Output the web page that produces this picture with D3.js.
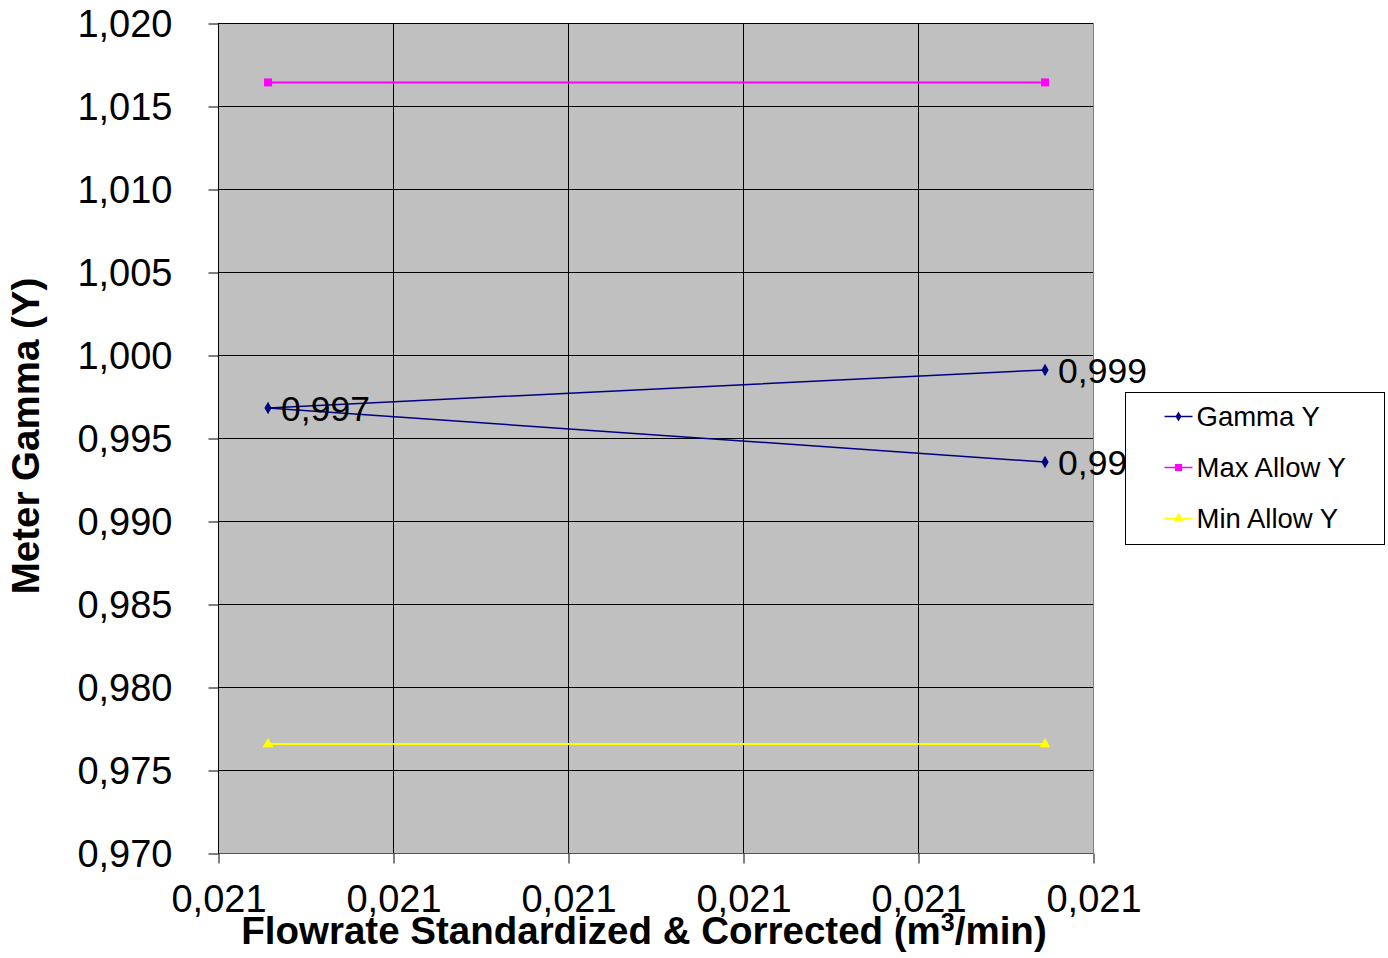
<!DOCTYPE html>
<html>
<head>
<meta charset="utf-8">
<script src="https://cdn.jsdelivr.net/npm/d3@7"></script>
<style>
  body { margin: 0; background: #fff; }
  text { font-family: "Liberation Sans", Arial, sans-serif; }
</style>
</head>
<body>
<div id="chart"></div>
<script>
// data
var gammaX = [0.0212226, 0.0207786, 0.0212226],
  gammaY = [0.99910, 0.99681, 0.99355],
  gammaLabels = ["0,999", "0,997", "0,994"],
  limitX = [0.0207786, 0.0212226],
  maxY = [1.01642, 1.01642],
  minY = [0.97656, 0.97656],
  yTicks = [0.970, 0.975, 0.980, 0.985, 0.990, 0.995, 1.000, 1.005, 1.010, 1.015, 1.020],
  xTicks = [0.02075, 0.02085, 0.02095, 0.02105, 0.02115, 0.02125],
  seriesNames = ["Gamma Y", "Max Allow Y", "Min Allow Y"],
  seriesColors = ["#000080", "#ff00ff", "#ffff00"];

var width = 1388, height = 958,
  plot = { left: 218, right: 1093, top: 23, bottom: 853 };

var svg = d3.select("#chart").append("svg")
  .attr("width", width)
  .attr("height", height);

var x = d3.scaleLinear().domain([0.02075, 0.02125]).range([plot.left, plot.right]);
var y = d3.scaleLinear().domain([0.970, 1.020]).range([plot.bottom, plot.top]);

var fmt = function (d) { return d3.format(".3f")(d).replace(".", ","); };

// plot background
svg.append("rect")
  .attr("x", plot.left).attr("y", plot.top)
  .attr("width", plot.right - plot.left).attr("height", plot.bottom - plot.top)
  .style("fill", "#c0c0c0");

// gridlines
svg.selectAll(".hgrid").data(yTicks).enter().append("line")
  .attr("class", "hgrid")
  .attr("x1", plot.left).attr("x2", plot.right)
  .attr("y1", function (d) { return Math.round(y(d)) + 0.5; })
  .attr("y2", function (d) { return Math.round(y(d)) + 0.5; })
  .style("stroke", "#000").style("stroke-width", 1);

svg.selectAll(".vgrid").data(xTicks.slice(1, -1)).enter().append("line")
  .attr("class", "vgrid")
  .attr("y1", plot.top).attr("y2", plot.bottom)
  .attr("x1", function (d) { return Math.round(x(d)) + 0.5; })
  .attr("x2", function (d) { return Math.round(x(d)) + 0.5; })
  .style("stroke", "#000").style("stroke-width", 1);

// plot border right (grey)
svg.append("line")
  .attr("x1", plot.right + 0.5).attr("x2", plot.right + 0.5)
  .attr("y1", plot.top).attr("y2", plot.bottom)
  .style("stroke", "#808080");

// axes
var yAxis = d3.axisLeft(y).tickValues(yTicks).tickSize(10).tickPadding(36).tickFormat(fmt);
var gy = svg.append("g").attr("transform", "translate(" + (plot.left + 0.5) + ",0.5)").call(yAxis);
gy.selectAll("text").style("font-size", "38px").style("fill", "#000")
  .attr("dy", "0.34em");
gy.selectAll("line, path").style("stroke", "#000");
gy.select(".domain").attr("d", "M0," + plot.top + "V" + plot.bottom);

var xAxis = d3.axisBottom(x).tickValues(xTicks).tickSize(10).tickPadding(22).tickFormat(fmt);
var gx = svg.append("g").attr("transform", "translate(0.5," + (plot.bottom + 0.5) + ")").call(xAxis);
gx.selectAll("text").style("font-size", "38px").style("fill", "#000");
gx.selectAll(".tick line").style("stroke", "#000");
gx.select(".domain").attr("d", "M" + plot.left + ",0H" + plot.right).style("stroke", "#555");

// axis titles
var xt = svg.append("text")
  .attr("x", 644).attr("y", 944)
  .attr("text-anchor", "middle")
  .style("font-size", "38.5px").style("font-weight", "bold")
  .text("Flowrate Standardized & Corrected (m");
xt.append("tspan").attr("dy", -13).style("font-size", "25px").text("3");
xt.append("tspan").attr("dy", 13).text("/min)");

svg.append("text")
  .attr("transform", "translate(39,436) rotate(-90)")
  .attr("text-anchor", "middle")
  .style("font-size", "38.5px").style("font-weight", "bold")
  .text("Meter Gamma (Y)");

// series
var line = d3.line().x(function (d) { return x(d[0]); }).y(function (d) { return y(d[1]); });

var gammaPts = d3.zip(gammaX, gammaY),
  maxPts = d3.zip(limitX, maxY),
  minPts = d3.zip(limitX, minY);

svg.append("path").datum(maxPts).attr("d", line)
  .style("fill", "none").style("stroke", seriesColors[1]).style("stroke-width", 2);
svg.append("path").datum(minPts).attr("d", line)
  .style("fill", "none").style("stroke", seriesColors[2]).style("stroke-width", 2);
svg.append("path").datum(gammaPts).attr("d", line)
  .style("fill", "none").style("stroke", seriesColors[0]).style("stroke-width", 1.5);

var diamond = d3.symbol().type(d3.symbolDiamond).size(45);
var square = d3.symbol().type(d3.symbolSquare).size(64);
var triangle = d3.symbol().type(d3.symbolTriangle).size(50);

svg.selectAll(".gm").data(gammaPts).enter().append("path")
  .attr("class", "gm").attr("d", diamond)
  .attr("transform", function (d) { return "translate(" + x(d[0]) + "," + y(d[1]) + ")"; })
  .style("fill", seriesColors[0]);
svg.selectAll(".mx").data(maxPts).enter().append("path")
  .attr("class", "mx").attr("d", square)
  .attr("transform", function (d) { return "translate(" + x(d[0]) + "," + y(d[1]) + ")"; })
  .style("fill", seriesColors[1]);
svg.selectAll(".mn").data(minPts).enter().append("path")
  .attr("class", "mn").attr("d", triangle)
  .attr("transform", function (d) { return "translate(" + x(d[0]) + "," + y(d[1]) + ")"; })
  .style("fill", seriesColors[2]);

// data labels
svg.selectAll(".dl").data(gammaPts).enter().append("text")
  .attr("class", "dl")
  .attr("x", function (d) { return x(d[0]) + 13; })
  .attr("y", function (d) { return y(d[1]) + 13; })
  .style("font-size", "35.5px").style("fill", "#000")
  .text(function (d, i) { return gammaLabels[i]; });

// legend (drawn on top, hides part of the last label)
var legend = svg.append("g").attr("transform", "translate(1125.5,392.5)");
legend.append("rect")
  .attr("width", 259).attr("height", 152)
  .style("fill", "#fff").style("stroke", "#000").style("stroke-width", 1);

var symbols = [d3.symbol().type(d3.symbolDiamond).size(30), d3.symbol().type(d3.symbolSquare).size(50), d3.symbol().type(d3.symbolTriangle).size(40)];
var items = legend.selectAll(".legend").data(seriesNames).enter().append("g")
  .attr("class", "legend")
  .attr("transform", function (d, i) { return "translate(0," + (24 + i * 51) + ")"; });
items.append("line")
  .attr("x1", 39).attr("x2", 67)
  .style("stroke", function (d, i) { return seriesColors[i]; })
  .style("stroke-width", 1.5);
items.append("path")
  .attr("d", function (d, i) { return symbols[i](); })
  .attr("transform", "translate(53,0)")
  .style("fill", function (d, i) { return seriesColors[i]; });
items.append("text")
  .attr("x", 71).attr("dy", "0.36em")
  .style("font-size", "27.5px").style("fill", "#000")
  .text(function (d) { return d; });
</script>
</body>
</html>
